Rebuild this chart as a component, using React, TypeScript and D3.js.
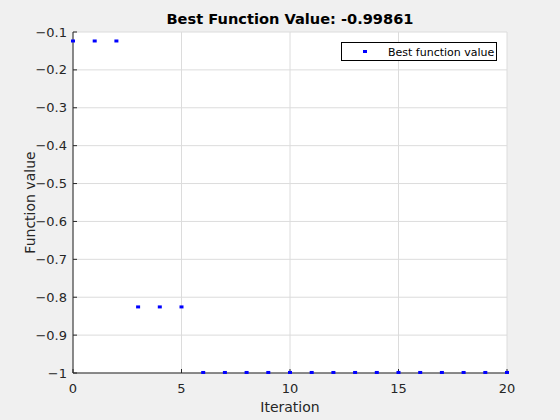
import React from "react";
import * as d3 from "d3";

const iterations = [0,1,2,3,4,5,6,7,8,9,10,11,12,13,14,15,16,17,18,19,20];
const bestValues = [-0.1237,-0.1237,-0.1237,-0.8256,-0.8256,-0.8256,-0.9986,-0.9986,-0.9986,-0.9986,-0.9986,-0.9986,-0.9986,-0.9986,-0.9986,-0.9986,-0.9986,-0.9986,-0.9986,-0.9986,-0.99861];
const xTicks = [0,5,10,15,20];
const yTicks = [-0.1,-0.2,-0.3,-0.4,-0.5,-0.6,-0.7,-0.8,-0.9,-1];
const titleText = "Best Function Value: -0.99861";
const legendLabel = "Best function value";

export default function App() {
  const W = 560, H = 420;
  const left = 73, right = 507, top = 32, bottom = 373;
  const x = d3.scaleLinear().domain([0, 20]).range([left, right]);
  const y = d3.scaleLinear().domain([-1, -0.1]).range([bottom, top]);
  const font = "DejaVu Sans, sans-serif";
  const axisColor = "#262626";
  return (
    <svg width={W} height={H} style={{ position: "absolute", left: 0, top: 0 }} fontFamily={font}>
      <rect x={0} y={0} width={W} height={H} fill="#f0f0f0" />
      <rect x={left} y={top} width={right - left} height={bottom - top} fill="#ffffff" />
      {xTicks.map(t => (
        <line key={"gx" + t} x1={x(t)} x2={x(t)} y1={top} y2={bottom} stroke="#dcdcdc" strokeWidth={1} />
      ))}
      {yTicks.map(t => (
        <line key={"gy" + t} x1={left} x2={right} y1={y(t)} y2={y(t)} stroke="#dcdcdc" strokeWidth={1} />
      ))}
      <line x1={left} x2={right} y1={bottom} y2={bottom} stroke={axisColor} strokeWidth={1} />
      <line x1={left} x2={left} y1={top} y2={bottom} stroke={axisColor} strokeWidth={1} />
      {xTicks.map(t => (
        <g key={"tx" + t}>
          <line x1={x(t)} x2={x(t)} y1={bottom} y2={bottom - 4} stroke={axisColor} />
          <text x={x(t)} y={bottom + 20} textAnchor="middle" fontSize={13} fill={axisColor}>{t}</text>
        </g>
      ))}
      {yTicks.map(t => (
        <g key={"ty" + t}>
          <line x1={left} x2={left + 4} y1={y(t)} y2={y(t)} stroke={axisColor} />
          <text x={left - 6} y={y(t) + 4.5} textAnchor="end" fontSize={13} fill={axisColor}>{d3.format("")(t)}</text>
        </g>
      ))}
      {iterations.map((it, i) => (
        <rect key={"p" + i} x={x(it) - 2} y={y(bestValues[i]) - 1.5} width={4} height={3} fill="#0000ff" />
      ))}
      <text x={(left + right) / 2} y={24} textAnchor="middle" fontSize={14.6} fontWeight="bold" fill="#000">{titleText}</text>
      <text x={(left + right) / 2} y={412} textAnchor="middle" fontSize={14} fill={axisColor}>Iteration</text>
      <text transform={`translate(35, ${(top + bottom) / 2}) rotate(-90)`} textAnchor="middle" fontSize={14} fill={axisColor}>Function value</text>
      <rect x={341.5} y={42.5} width={155} height={18} fill="#ffffff" stroke="#000" strokeWidth={1} />
      <rect x={363} y={50} width={4} height={3} fill="#0000ff" />
      <text x={388} y={55.5} fontSize={11} fill="#000">{legendLabel}</text>
    </svg>
  );
}
